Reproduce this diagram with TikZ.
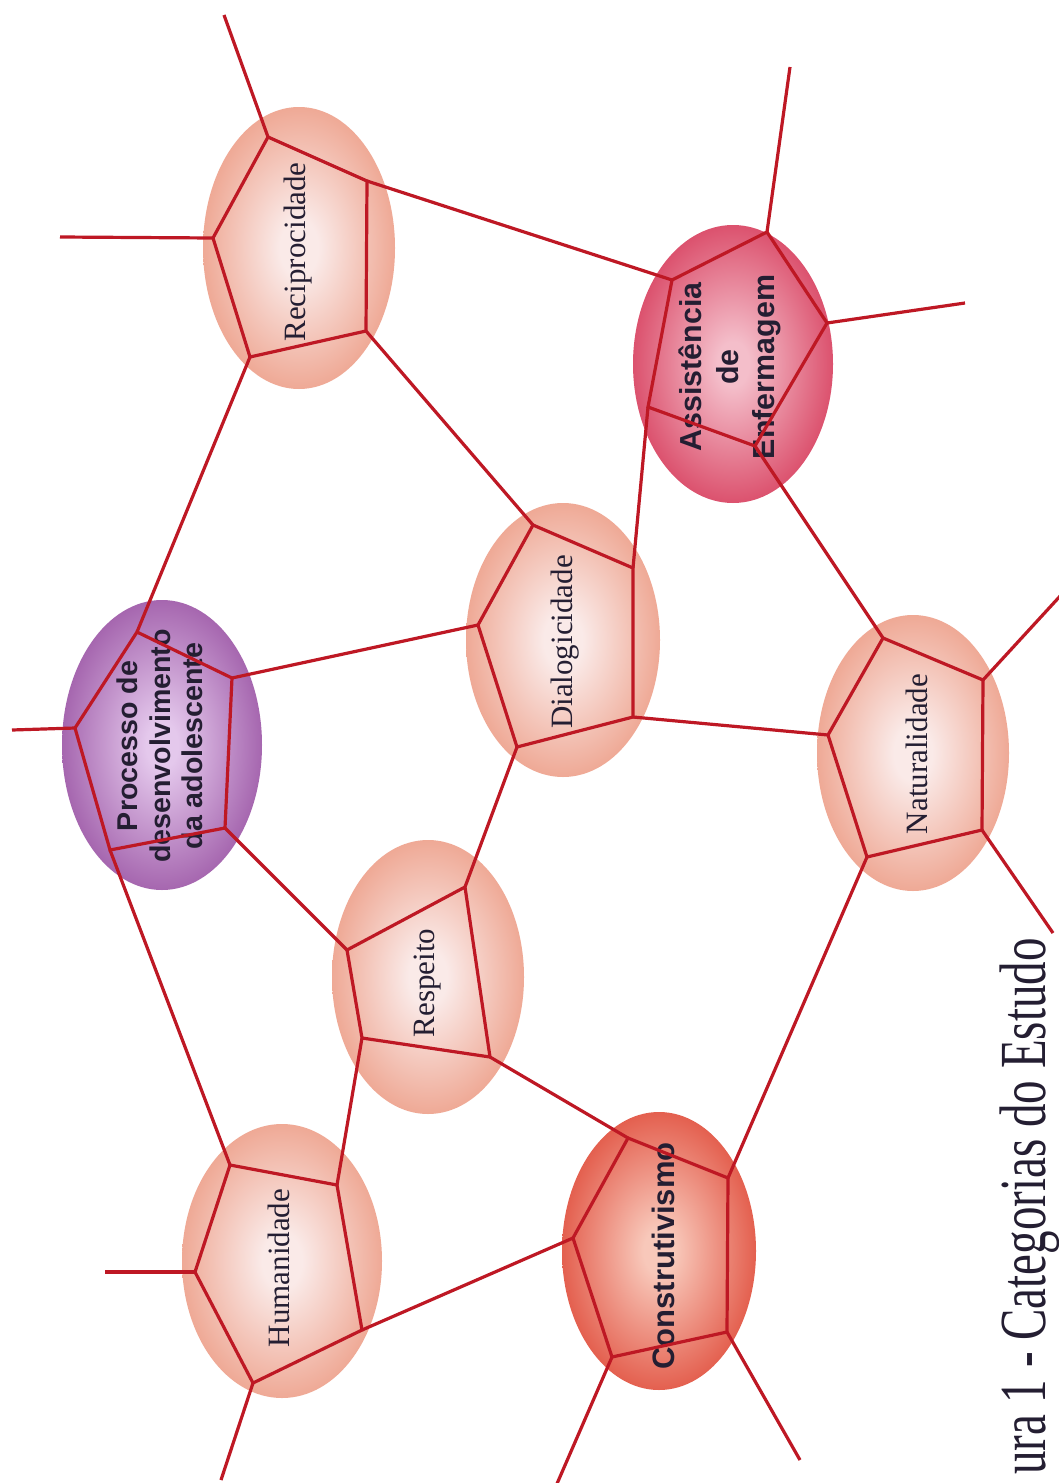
\documentclass[tikz,border=0pt]{standalone}
\usepackage{fontspec}
\setmainfont{Liberation Serif}
\newfontfamily\sansbf{Liberation Sans}
\definecolor{webred}{RGB}{190,24,36}
\definecolor{txtdark}{RGB}{36,30,50}
\definecolor{salIn}{RGB}{250,234,232}
\definecolor{salOut}{RGB}{232,130,100}
\definecolor{purIn}{RGB}{228,200,236}
\definecolor{purOut}{RGB}{136,56,146}
\definecolor{crmIn}{RGB}{244,190,202}
\definecolor{crmOut}{RGB}{208,30,66}
\definecolor{redIn}{RGB}{248,200,186}
\definecolor{redOut}{RGB}{218,46,28}
\pgfdeclareradialshading{salsh}{\pgfpoint{0bp}{0bp}}{color(0bp)=(salIn); color(5bp)=(salIn); color(37bp)=(salOut); color(50bp)=(salOut)}
\pgfdeclareradialshading{pursh}{\pgfpoint{0bp}{0bp}}{color(0bp)=(purIn); color(4bp)=(purIn); color(35bp)=(purOut); color(50bp)=(purOut)}
\pgfdeclareradialshading{crmsh}{\pgfpoint{0bp}{0bp}}{color(0bp)=(crmIn); color(4bp)=(crmIn); color(35bp)=(crmOut); color(50bp)=(crmOut)}
\pgfdeclareradialshading{redsh}{\pgfpoint{0bp}{0bp}}{color(0bp)=(redIn); color(4bp)=(redIn); color(35bp)=(redOut); color(50bp)=(redOut)}
\tikzset{
  web/.style={draw=webred, line width=1.6pt, line join=miter},
  serlab/.style={rotate=90, inner sep=0pt, text=txtdark, font=\fontsize{15.5}{18}\selectfont},
  sanlab/.style={rotate=90, inner sep=0pt, text=txtdark, align=center},
}
\begin{document}
\begin{tikzpicture}[x=0.5pt,y=-0.5pt]
\useasboundingbox (0,0) rectangle (1059,1483);
\clip (0,0) rectangle (1059,1483);
\fill[white] (0,0) rectangle (1059,1483);

% ellipses
\shade[shading=salsh] (299,248) ellipse (96 and 141);
\shade[shading=crmsh] (733,364) ellipse (100 and 139);
\shade[shading=pursh] (162,745) ellipse (100 and 145);
\shade[shading=salsh] (563,640) ellipse (97 and 137);
\shade[shading=salsh] (913,753) ellipse (96 and 138);
\shade[shading=salsh] (428,977) ellipse (96 and 137);
\shade[shading=salsh] (282,1261) ellipse (100 and 137);
\shade[shading=redsh] (659,1251) ellipse (97 and 139);

% labels
\node[serlab] (recip) at (298,252) {Reciprocidade};
\node[serlab] (dialog) at (565,642) {Dialogicidade};
\node[serlab] (natur) at (917,754) {Naturalidade};
\node[serlab] (resp) at (428,983) {Respeito};
\node[serlab] (human) at (279,1268) {Humanidade};
\node[sanlab, font=\sansbf\bfseries\fontsize{15.5}{18}\selectfont] (constr) at (663,1256) {Construtivismo};
\node[sanlab, font=\sansbf\bfseries\fontsize{14.3}{16.3}\selectfont] (proc) at (160,746) {Processo de\\desenvolvimento\\da adolescente};
\node[sanlab, font=\sansbf\bfseries\fontsize{15.2}{18.2}\selectfont] (assist) at (730,367) {Assistência\\de\\Enfermagem};

% caption
\node[rotate=90, anchor=base east, inner sep=0pt, text=txtdark, font=\fontsize{23.5}{28}\selectfont] (cap) at (1045,938) {\scalebox{1}[1.4]{ura 1 - Categorias do Estudo}};

% vertices
\coordinate (R1) at (268,137); \coordinate (R2) at (367,181); \coordinate (R3) at (366,331); \coordinate (R4) at (250,357); \coordinate (R5) at (213,238);
\coordinate (A1) at (767,232); \coordinate (A2) at (827,323); \coordinate (A3) at (755,446); \coordinate (A4) at (648,407); \coordinate (A5) at (672,280);
\coordinate (P1) at (137,632); \coordinate (P2) at (232,678); \coordinate (P3) at (225,828); \coordinate (P4) at (110,850); \coordinate (P5) at (75,728);
\coordinate (D1) at (533,525); \coordinate (D2) at (633,568); \coordinate (D3) at (633,717); \coordinate (D4) at (517,747); \coordinate (D5) at (478,625);
\coordinate (N1) at (883,638); \coordinate (N2) at (983,680); \coordinate (N3) at (982,830); \coordinate (N4) at (867,857); \coordinate (N5) at (828,735);
\coordinate (S1) at (465,887); \coordinate (S2) at (490,1057); \coordinate (S3) at (362,1038); \coordinate (S4) at (347,950);
\coordinate (H1) at (230,1165); \coordinate (H2) at (337,1185); \coordinate (H3) at (362,1330); \coordinate (H4) at (253,1383); \coordinate (H5) at (195,1272);
\coordinate (C1) at (628,1138); \coordinate (C2) at (728,1178); \coordinate (C3) at (727,1332); \coordinate (C4) at (612,1357); \coordinate (C5) at (573,1238);
% free ends
\coordinate (eR1) at (224,15); \coordinate (eR5) at (60,237);
\coordinate (eA1) at (790,67); \coordinate (eA2) at (965,303);
\coordinate (eP5) at (12,730);
\coordinate (eN2) at (1062,594); \coordinate (eN3) at (1053,933);
\coordinate (eC3) at (800,1460); \coordinate (eC4) at (556,1486);
\coordinate (eH4) at (221,1480); \coordinate (eH5) at (105,1272);

% polygons
\draw[web] (R1)--(R2)--(R3)--(R4)--(R5)--cycle;
\draw[web] (A1)--(A2)--(A3)--(A4)--(A5)--cycle;
\draw[web] (P1)--(P2)--(P3)--(P4)--(P5)--cycle;
\draw[web] (D1)--(D2)--(D3)--(D4)--(D5)--cycle;
\draw[web] (N1)--(N2)--(N3)--(N4)--(N5)--cycle;
\draw[web] (S1)--(S2)--(S3)--(S4)--cycle;
\draw[web] (H1)--(H2)--(H3)--(H4)--(H5)--cycle;
\draw[web] (C1)--(C2)--(C3)--(C4)--(C5)--cycle;

% connectors between categories
\draw[web] (R4)--(P1);
\draw[web] (R3)--(D1);
\draw[web] (R2)--(A5);
\draw[web] (A4)--(D2);
\draw[web] (A3)--(N1);
\draw[web] (P2)--(D5);
\draw[web] (P3)--(S4);
\draw[web] (P4)--(H1);
\draw[web] (D3)--(N5);
\draw[web] (D4)--(S1);
\draw[web] (S2)--(C1);
\draw[web] (S3)--(H2);
\draw[web] (N4)--(C2);
\draw[web] (H3)--(C5);

% loose ends
\draw[web] (R1)--(eR1);
\draw[web] (R5)--(eR5);
\draw[web] (A1)--(eA1);
\draw[web] (A2)--(eA2);
\draw[web] (P5)--(eP5);
\draw[web] (N2)--(eN2);
\draw[web] (N3)--(eN3);
\draw[web] (C3)--(eC3);
\draw[web] (C4)--(eC4);
\draw[web] (H4)--(eH4);
\draw[web] (H5)--(eH5);
\end{tikzpicture}
\end{document}
